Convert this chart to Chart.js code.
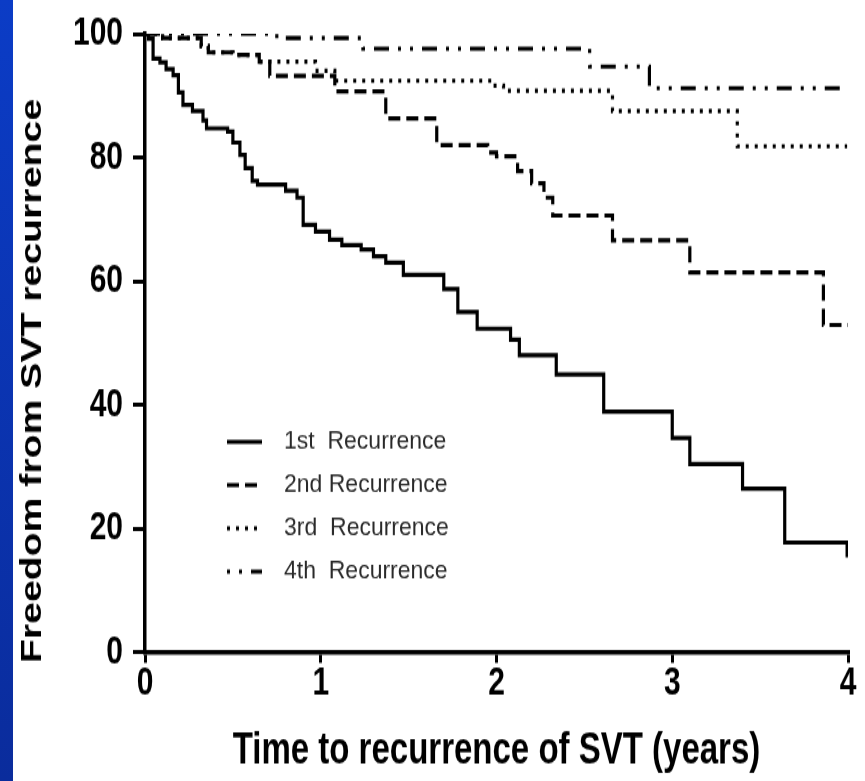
<!DOCTYPE html>
<html>
<head>
<meta charset="utf-8">
<title>Freedom from SVT recurrence</title>
<script src="https://cdn.jsdelivr.net/npm/chart.js@4.4.1/dist/chart.umd.min.js"></script>
<style>
  html, body { margin: 0; padding: 0; background: #fff; }
  body { width: 865px; height: 781px; position: relative; overflow: hidden; }
  .banda { position: absolute; left: 0; top: 0; width: 13px; height: 781px; background: linear-gradient(#0b3cc6, #0a2c9c); }
  #grafico { position: absolute; left: 0; top: 0; }
</style>
</head>
<body>
<div class="banda"></div>
<!-- the original picture is stretched vertically, so the canvas is too -->
<canvas id="grafico" width="865" height="578" style="width:865px;height:781px"></canvas>
<script>
// time in years / % free from SVT recurrence (Kaplan-Meier steps)
const tiempo1 = [0, 0.02, 0.046, 0.085, 0.12, 0.16, 0.19, 0.216, 0.27, 0.33, 0.35, 0.47, 0.5, 0.54, 0.57, 0.61, 0.64, 0.8, 0.865, 0.9, 0.97, 1.05, 1.12, 1.23, 1.3, 1.37, 1.47, 1.7, 1.78, 1.89, 2.08, 2.13, 2.34, 2.61, 3.0, 3.1, 3.4, 3.64, 3.995];
const libre1  = [100, 99.2, 96, 95.4, 94.3, 93.3, 90.5, 88.5, 87.5, 86, 84.7, 84.2, 82.4, 80.4, 78.3, 76.2, 75.6, 74.6, 73.5, 69.1, 68, 66.7, 65.8, 65.1, 64, 63, 61, 58.7, 55, 52.3, 50.5, 48, 44.9, 38.9, 34.6, 30.4, 26.4, 17.7, 15.3];

const tiempo2 = [0, 0.1, 0.32, 0.36, 0.5, 0.65, 0.71, 1.08, 1.37, 1.66, 1.95, 2.0, 2.12, 2.2, 2.27, 2.32, 2.66, 3.1, 3.86, 4.0];
const libre2  = [100, 99.3, 98, 97, 96.6, 95.5, 93.2, 90.7, 86.3, 82, 80.8, 80.2, 77.8, 75.8, 73.5, 70.6, 66.6, 61.4, 52.9, 52.9];

const tiempo3 = [0, 0.1, 0.32, 0.36, 0.5, 0.65, 0.97, 1.08, 1.98, 2.04, 2.66, 3.37, 3.995];
const libre3  = [100, 99.3, 98, 97, 96.6, 95.5, 94, 92.4, 91.6, 90.8, 87.5, 81.8, 81.8];

const tiempo4 = [0, 0.75, 1.24, 2.53, 2.87, 3.97];
const libre4  = [100, 99.3, 97.6, 94.7, 91.2, 91.2];

const etiquetas = ["1st  Recurrence", "2nd Recurrence", "3rd  Recurrence", "4th  Recurrence"];
const ticksX = [0, 1, 2, 3, 4];
const ticksY = [0, 20, 40, 60, 80, 100];
const tituloX = "Time to recurrence of SVT (years)";
const tituloY = "Freedom from SVT recurrence";

function puntos(t, v) {
  return t.map((x, i) => ({ x: x, y: v[i] }));
}

Chart.defaults.font.family = '"Liberation Sans", Arial, Helvetica, sans-serif';
Chart.defaults.color = "#000";

// legend drawn inside the plot, like the original
const leyenda = {
  id: "leyenda",
  afterDatasetsDraw(chart) {
    const ctx = chart.ctx;
    const filas = [327, 359, 391, 423];
    const offsets = [0, 0, 0, 24];
    ctx.save();
    chart.data.datasets.forEach((ds, i) => {
      const y = filas[i];
      ctx.strokeStyle = "#000";
      ctx.lineWidth = 3;
      ctx.setLineDash(ds.borderDash || []);
      ctx.lineDashOffset = offsets[i];
      ctx.beginPath();
      ctx.moveTo(227, y);
      ctx.lineTo(262, y);
      ctx.stroke();
      ctx.setLineDash([]);

      ctx.save();
      ctx.translate(284, y);
      ctx.scale(1, 0.83);
      ctx.font = '23px "Liberation Sans", Arial, sans-serif';
      ctx.fillStyle = "#2a2a2a";
      ctx.textBaseline = "middle";
      ctx.fillText(ds.label, 0, 0);
      ctx.restore();
    });
    ctx.restore();
  }
};

const ctx = document.getElementById("grafico");

const myChart = new Chart(ctx, {
  type: "line",
  data: {
    datasets: [
      { label: etiquetas[0], data: puntos(tiempo1, libre1), borderColor: "#000", borderWidth: 3.2, stepped: true, pointRadius: 0 },
      { label: etiquetas[1], data: puntos(tiempo2, libre2), borderColor: "#000", borderWidth: 3.2, borderDash: [12, 6], stepped: true, pointRadius: 0 },
      { label: etiquetas[2], data: puntos(tiempo3, libre3), borderColor: "#000", borderWidth: 3.2, borderDash: [3, 6], stepped: true, pointRadius: 0 },
      { label: etiquetas[3], data: puntos(tiempo4, libre4), borderColor: "#000", borderWidth: 3.2, borderDash: [15, 9, 3, 9, 3, 9], stepped: true, pointRadius: 0 }
    ]
  },
  options: {
    responsive: false,
    animation: false,
    devicePixelRatio: 1,
    layout: { padding: { left: 14, top: 22.2, right: 17, bottom: 0 } },
    plugins: {
      legend: { display: false },
      tooltip: { enabled: false }
    },
    scales: {
      x: {
        type: "linear",
        min: ticksX[0],
        max: ticksX[ticksX.length - 1],
        afterBuildTicks: (s) => { s.ticks = ticksX.map(v => ({ value: v })); },
        ticks: { padding: 0, color: "#000", font: { size: 30, weight: "bold", lineHeight: 1 } },
        grid: { drawOnChartArea: false, tickLength: 8, color: "#000", lineWidth: 3 },
        border: { color: "#000", width: 3.5 },
        title: { display: true, text: tituloX, color: "#000", font: { size: 33, weight: "bold", lineHeight: 1.2 }, padding: { top: 0, bottom: 2 } },
        afterFit: (s) => { s.height = 95.5; }
      },
      y: {
        min: ticksY[0],
        max: ticksY[ticksY.length - 1],
        afterBuildTicks: (s) => { s.ticks = ticksY.map(v => ({ value: v })); },
        ticks: { padding: 10, color: "#000", font: { size: 30, weight: "bold", lineHeight: 1 } },
        grid: { drawOnChartArea: false, tickLength: 12, color: "#000", lineWidth: 3 },
        border: { color: "#000", width: 3.5 },
        title: { display: true, text: tituloY + "       ", color: "#000", font: { size: 29, weight: "bold", lineHeight: 1.2 }, padding: { top: 2, bottom: 0 } },
        afterFit: (s) => { s.width = 131; }
      }
    }
  },
  plugins: [leyenda]
});
</script>
</body>
</html>
